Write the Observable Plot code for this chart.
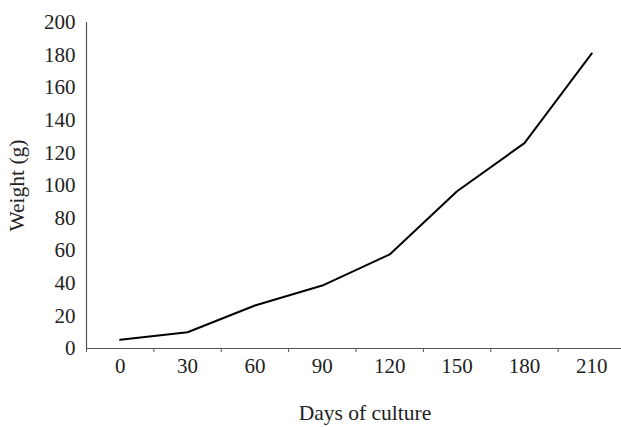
<!DOCTYPE html>
<html><head><meta charset="utf-8">
<script src="https://cdn.jsdelivr.net/npm/d3@7"></script>
<script src="https://cdn.jsdelivr.net/npm/@observablehq/plot@0.6"></script>
<style>body{margin:0;background:#fff}
svg, svg text{font-family:"Liberation Serif","DejaVu Serif",serif !important}</style>
</head><body><div id="chart"></div>
<script>
const days = [0, 30, 60, 90, 120, 150, 180, 210];
const weights = [5.3, 10, 26.4, 38.6, 57.7, 96.5, 126, 181];
const yTicks = [0, 20, 40, 60, 80, 100, 120, 140, 160, 180, 200];
const xTitle = "Days of culture";
const yTitle = "Weight (g)";
const data = days.map((d, i) => ({day: d, weight: weights[i]}));
const step = days[1] - days[0];
const bounds = days.map(d => d - step / 2);

const chart = Plot.plot({
  width: 621, height: 427,
  marginLeft: 86, marginRight: 0, marginTop: 22, marginBottom: 79,
  style: {fontFamily: "Liberation Serif, serif", fontSize: "21px", color: "#222", background: "#fff"},
  x: {domain: [days[0] - step / 2, days[days.length - 1] + step / 2], range: [86, 625]},
  y: {domain: [0, 200]},
  marks: [
    Plot.axisY({ticks: yTicks, tickSize: 0, tickPadding: 11, label: null, fontSize: 21}),
    Plot.axisX({ticks: days, tickSize: 0, tickPadding: 10, label: null, fontSize: 21}),
    Plot.axisX({ticks: bounds, tickSize: 4, tickFormat: () => "", label: null, stroke: "#555"}),
    Plot.ruleY([0], {stroke: "#555", strokeWidth: 1.2}),
    Plot.ruleX([bounds[0]], {y1: 0, y2: 200, stroke: "#555", strokeWidth: 1.2}),
    Plot.line(data, {x: "day", y: "weight", stroke: "#000", strokeWidth: 2}),
    Plot.text([xTitle], {frameAnchor: "bottom", dx: 11, dy: 71, fontSize: 21.5, fill: "#222"}),
    Plot.text([yTitle], {frameAnchor: "left", textAnchor: "middle", dx: -69, rotate: -90, fontSize: 21.5, fill: "#222"})
  ]
});
document.getElementById("chart").appendChild(chart);
</script></body></html>
